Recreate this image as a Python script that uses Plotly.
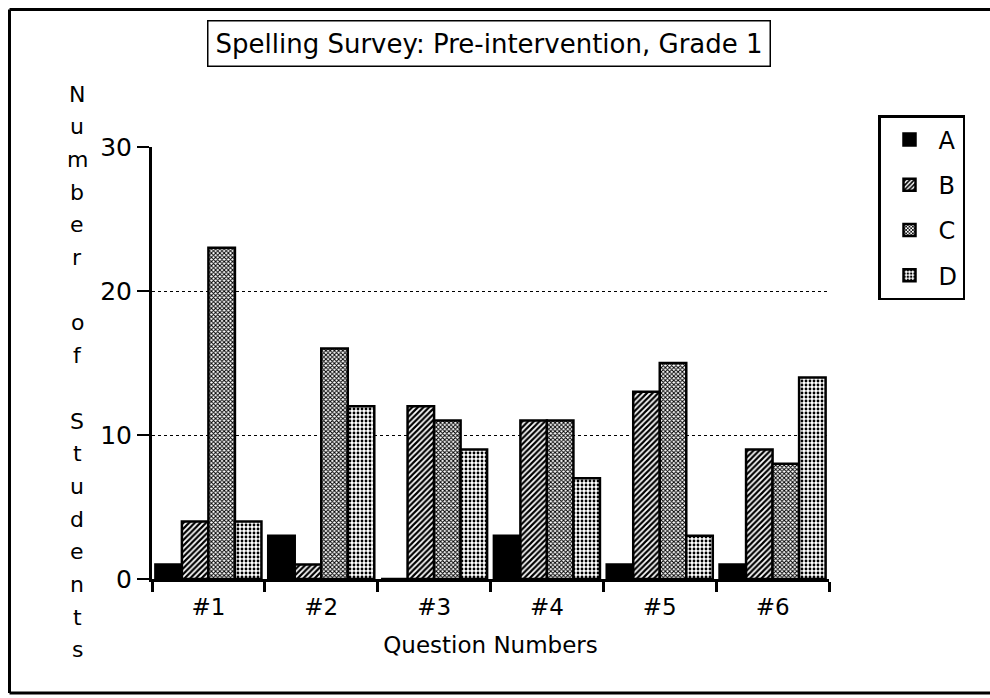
import plotly.graph_objects as go

categories = ["#1", "#2", "#3", "#4", "#5", "#6"]
series_names = ["A", "B", "C", "D"]
values_A = [1, 3, 0, 3, 1, 1]
values_B = [4, 1, 12, 11, 13, 9]
values_C = [23, 16, 11, 11, 15, 8]
values_D = [4, 12, 9, 7, 3, 14]
y_ticks = [0, 10, 20, 30]
title_text = "Spelling Survey: Pre-intervention, Grade 1"
x_title = "Question Numbers"
y_title = "Number of Students"

FONT = "DejaVu Sans"
W, H = 990, 698
# plot area in screen pixels (page margin removed below)
L, R, T, B = 152, 829, 147, 579

def px2x(sx):
    return (sx - L) / (R - L)

def px2y(sy):
    return (B - sy) / (B - T)

series_values = [values_A, values_B, values_C, values_D]
styles = [
    dict(color="black"),
    dict(color="white", pattern=dict(shape="/", fgcolor="black", bgcolor="white",
                                     size=4, solidity=0.55, fillmode="replace")),
    dict(color="white", pattern=dict(shape="x", fgcolor="black", bgcolor="white",
                                     size=3, solidity=0.55, fillmode="replace")),
    dict(color="white", pattern=dict(shape=".", fgcolor="black", bgcolor="white",
                                     size=4, solidity=0.4, fillmode="replace")),
]

fig = go.Figure()
for name, vals, st in zip(series_names, series_values, styles):
    marker = dict(st)
    marker["line"] = dict(color="black", width=2.5)
    fig.add_trace(go.Bar(x=categories, y=vals, name=name, marker=marker,
                         legendgroup=name))

annotations = [
    dict(text=title_text, x=px2x(489), y=px2y(43), xref="paper", yref="paper",
         showarrow=False, font=dict(family=FONT, size=26, color="black"),
         bordercolor="black", borderwidth=1.5, borderpad=7, bgcolor="white",
         xanchor="center", yanchor="middle"),
]
letters = []
for w_i, word in enumerate(y_title.split(" ")):
    if w_i > 0:
        letters.append("")
    letters.extend(list(word))
for i, ch in enumerate(letters):
    if ch == "":
        continue
    annotations.append(dict(text=ch, x=px2x(77), y=px2y(94 + i * 32.7),
                            xref="paper", yref="paper", showarrow=False,
                            font=dict(family=FONT, size=22, color="black"),
                            xanchor="center", yanchor="middle"))

bx0, by0, by1 = px2x(9.5), px2y(9.5), px2y(693)
shapes = [
    dict(type="line", xref="paper", yref="paper", x0=bx0, x1=px2x(1000),
         y0=by0, y1=by0, line=dict(color="black", width=3)),
    dict(type="line", xref="paper", yref="paper", x0=bx0, x1=bx0,
         y0=by0, y1=by1, line=dict(color="black", width=3)),
    dict(type="line", xref="paper", yref="paper", x0=bx0, x1=px2x(1000),
         y0=by1, y1=by1, line=dict(color="black", width=3)),
]

fig.update_layout(
    width=W, height=H, autosize=False,
    margin=dict(l=L, r=W - R, t=T, b=H - B, pad=0),
    paper_bgcolor="white", plot_bgcolor="white",
    barmode="group", bargap=0.06, bargroupgap=0,
    font=dict(family=FONT, color="black"),
    showlegend=True,
    legend=dict(x=px2x(878), y=px2y(115), xanchor="left", yanchor="top",
                bordercolor="black", borderwidth=2.5, bgcolor="white",
                font=dict(family=FONT, size=24, color="black"),
                tracegroupgap=11, itemwidth=48, traceorder="grouped"),
    annotations=annotations,
    shapes=shapes,
)
fig.update_xaxes(
    showline=True, linecolor="black", linewidth=2.5,
    ticks="outside", tickson="boundaries", ticklen=10, tickwidth=2.5, tickcolor="black",
    tickfont=dict(family=FONT, size=23, color="black"), ticklabelstandoff=6,
    title=dict(text=x_title, font=dict(family=FONT, size=23, color="black"), standoff=18),
    showgrid=False, zeroline=False,
)
fig.update_yaxes(
    range=[0, 30], tickvals=y_ticks,
    showline=True, linecolor="black", linewidth=3,
    ticks="outside", ticklen=12, tickwidth=2, tickcolor="black",
    tickfont=dict(family=FONT, size=25, color="black"),
    showgrid=True, gridcolor="black", griddash="dot", gridwidth=1,
    zeroline=False,
)

fig.write_html(
    "out.html",
    config={"displayModeBar": False},
    post_script="document.body.style.margin='0';document.body.style.overflow='hidden';",
)
